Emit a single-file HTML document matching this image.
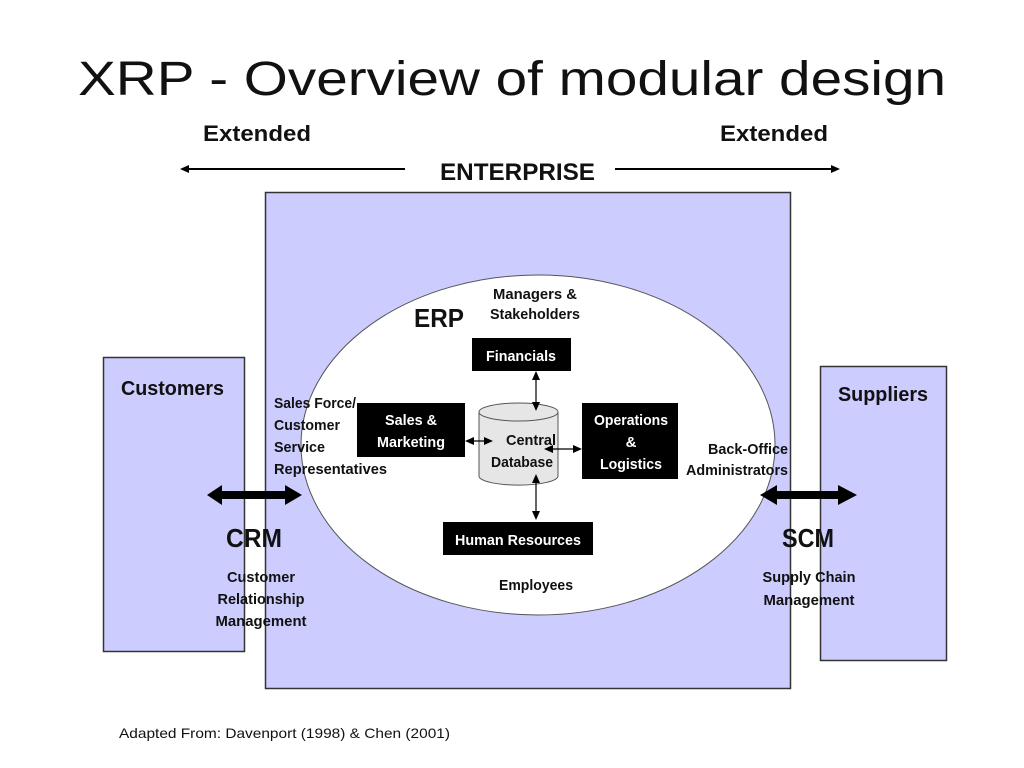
<!DOCTYPE html>
<html><head><meta charset="utf-8"><style>
html,body{margin:0;padding:0;background:#fff;}
svg{display:block;}
text{font-family:"Liberation Sans",sans-serif;font-weight:bold;fill:#111;}
.w{fill:#fff;}
</style></head><body>
<svg width="1024" height="768" viewBox="0 0 1024 768" xmlns="http://www.w3.org/2000/svg">
<text x="512" y="95" text-anchor="middle" style="font-weight:normal;font-size:48px" textLength="868" lengthAdjust="spacingAndGlyphs">XRP - Overview of modular design</text>

<text x="203" y="141" font-size="22" textLength="108" lengthAdjust="spacingAndGlyphs">Extended</text>
<text x="720" y="141" font-size="22" textLength="108" lengthAdjust="spacingAndGlyphs">Extended</text>
<text x="440" y="180" font-size="24" textLength="155" lengthAdjust="spacingAndGlyphs">ENTERPRISE</text>
<line x1="405" y1="169" x2="186" y2="169" stroke="#000" stroke-width="2"/>
<path d="M180,169 L189,165 L189,173 Z" fill="#000"/>
<line x1="615" y1="169" x2="834" y2="169" stroke="#000" stroke-width="2"/>
<path d="M840,169 L831,165 L831,173 Z" fill="#000"/>

<rect x="103.5" y="357.5" width="141" height="294" fill="#ccccff" stroke="#333" stroke-width="1.5"/>
<rect x="265.5" y="192.5" width="525" height="496" fill="#ccccff" stroke="#333" stroke-width="1.5"/>
<rect x="820.5" y="366.5" width="126" height="294" fill="#ccccff" stroke="#333" stroke-width="1.5"/>

<text x="121" y="395" font-size="20" textLength="103" lengthAdjust="spacingAndGlyphs">Customers</text>
<text x="838" y="401" font-size="20" textLength="90" lengthAdjust="spacingAndGlyphs">Suppliers</text>

<ellipse cx="538" cy="445" rx="237" ry="170" fill="#fff" stroke="#555" stroke-width="1"/>

<text x="414" y="327" font-size="26" textLength="50" lengthAdjust="spacingAndGlyphs">ERP</text>
<text x="535" y="299" font-size="15" text-anchor="middle" textLength="84" lengthAdjust="spacingAndGlyphs">Managers &amp;</text>
<text x="535" y="319" font-size="15" text-anchor="middle" textLength="90" lengthAdjust="spacingAndGlyphs">Stakeholders</text>

<!-- cylinder -->
<path d="M479,412 L479,476 A39,9 0 0 0 558,476 L558,412" fill="#e6e6e6" stroke="#555" stroke-width="1"/>
<ellipse cx="518.5" cy="412" rx="39.5" ry="9" fill="#e6e6e6" stroke="#555" stroke-width="1"/>

<!-- connectors (double headed) -->
<g stroke="#000" stroke-width="1.2">
<line x1="536" y1="376" x2="536" y2="408"/>
<line x1="536" y1="478" x2="536" y2="518"/>
<line x1="467" y1="441" x2="490" y2="441"/>
<line x1="546" y1="449" x2="580" y2="449"/>
</g>
<g fill="#000">
<path d="M536,371 L532,380 L540,380 Z"/><path d="M536,411 L532,402 L540,402 Z"/>
<path d="M536,474 L532,483 L540,483 Z"/><path d="M536,520 L532,511 L540,511 Z"/>
<path d="M465,441 L474,437 L474,445 Z"/><path d="M493,441 L484,437 L484,445 Z"/>
<path d="M544,449 L553,445 L553,453 Z"/><path d="M582,449 L573,445 L573,453 Z"/>
</g>

<text x="531" y="445" font-size="15" text-anchor="middle" textLength="50" lengthAdjust="spacingAndGlyphs">Central</text>
<text x="522" y="467" font-size="15" text-anchor="middle" textLength="62" lengthAdjust="spacingAndGlyphs">Database</text>

<rect x="472" y="338" width="99" height="33" fill="#000"/>
<text class="w" x="521" y="361" font-size="15" text-anchor="middle" textLength="70" lengthAdjust="spacingAndGlyphs">Financials</text>
<rect x="357" y="403" width="108" height="54" fill="#000"/>
<text class="w" x="411" y="425" font-size="15" text-anchor="middle" textLength="52" lengthAdjust="spacingAndGlyphs">Sales &amp;</text>
<text class="w" x="411" y="447" font-size="15" text-anchor="middle" textLength="68" lengthAdjust="spacingAndGlyphs">Marketing</text>
<rect x="582" y="403" width="96" height="76" fill="#000"/>
<text class="w" x="631" y="425" font-size="15" text-anchor="middle" textLength="74" lengthAdjust="spacingAndGlyphs">Operations</text>
<text class="w" x="631" y="447" font-size="15" text-anchor="middle">&amp;</text>
<text class="w" x="631" y="469" font-size="15" text-anchor="middle" textLength="62" lengthAdjust="spacingAndGlyphs">Logistics</text>
<rect x="443" y="522" width="150" height="33" fill="#000"/>
<text class="w" x="518" y="545" font-size="15" text-anchor="middle" textLength="126" lengthAdjust="spacingAndGlyphs">Human Resources</text>

<text x="536" y="590" font-size="15" text-anchor="middle" textLength="74" lengthAdjust="spacingAndGlyphs">Employees</text>

<text x="274" y="408" font-size="15" textLength="82" lengthAdjust="spacingAndGlyphs">Sales Force/</text>
<text x="274" y="430" font-size="15" textLength="66" lengthAdjust="spacingAndGlyphs">Customer</text>
<text x="274" y="452" font-size="15" textLength="51" lengthAdjust="spacingAndGlyphs">Service</text>
<text x="274" y="474" font-size="15" textLength="113" lengthAdjust="spacingAndGlyphs">Representatives</text>
<text x="788" y="454" font-size="15" text-anchor="end" textLength="80" lengthAdjust="spacingAndGlyphs">Back-Office</text>
<text x="788" y="475" font-size="15" text-anchor="end" textLength="102" lengthAdjust="spacingAndGlyphs">Administrators</text>

<!-- thick arrows -->
<path d="M207,495 L222,485 L222,491 L285,491 L285,485 L302,495 L285,505 L285,499 L222,499 L222,505 Z" fill="#000"/>
<path d="M760,495 L777,485 L777,491 L838,491 L838,485 L857,495 L838,505 L838,499 L777,499 L777,505 Z" fill="#000"/>

<text x="254" y="547" font-size="26" text-anchor="middle" textLength="56" lengthAdjust="spacingAndGlyphs">CRM</text>
<text x="261" y="582" font-size="15" text-anchor="middle" textLength="68" lengthAdjust="spacingAndGlyphs">Customer</text>
<text x="261" y="604" font-size="15" text-anchor="middle" textLength="87" lengthAdjust="spacingAndGlyphs">Relationship</text>
<text x="261" y="626" font-size="15" text-anchor="middle" textLength="91" lengthAdjust="spacingAndGlyphs">Management</text>
<text x="808" y="547" font-size="26" text-anchor="middle" textLength="52" lengthAdjust="spacingAndGlyphs">SCM</text>
<text x="809" y="582" font-size="15" text-anchor="middle" textLength="93" lengthAdjust="spacingAndGlyphs">Supply Chain</text>
<text x="809" y="605" font-size="15" text-anchor="middle" textLength="91" lengthAdjust="spacingAndGlyphs">Management</text>

<text x="119" y="738" font-size="14" style="font-weight:normal" textLength="331" lengthAdjust="spacingAndGlyphs">Adapted From: Davenport (1998) &amp; Chen (2001)</text>
</svg>
</body></html>
